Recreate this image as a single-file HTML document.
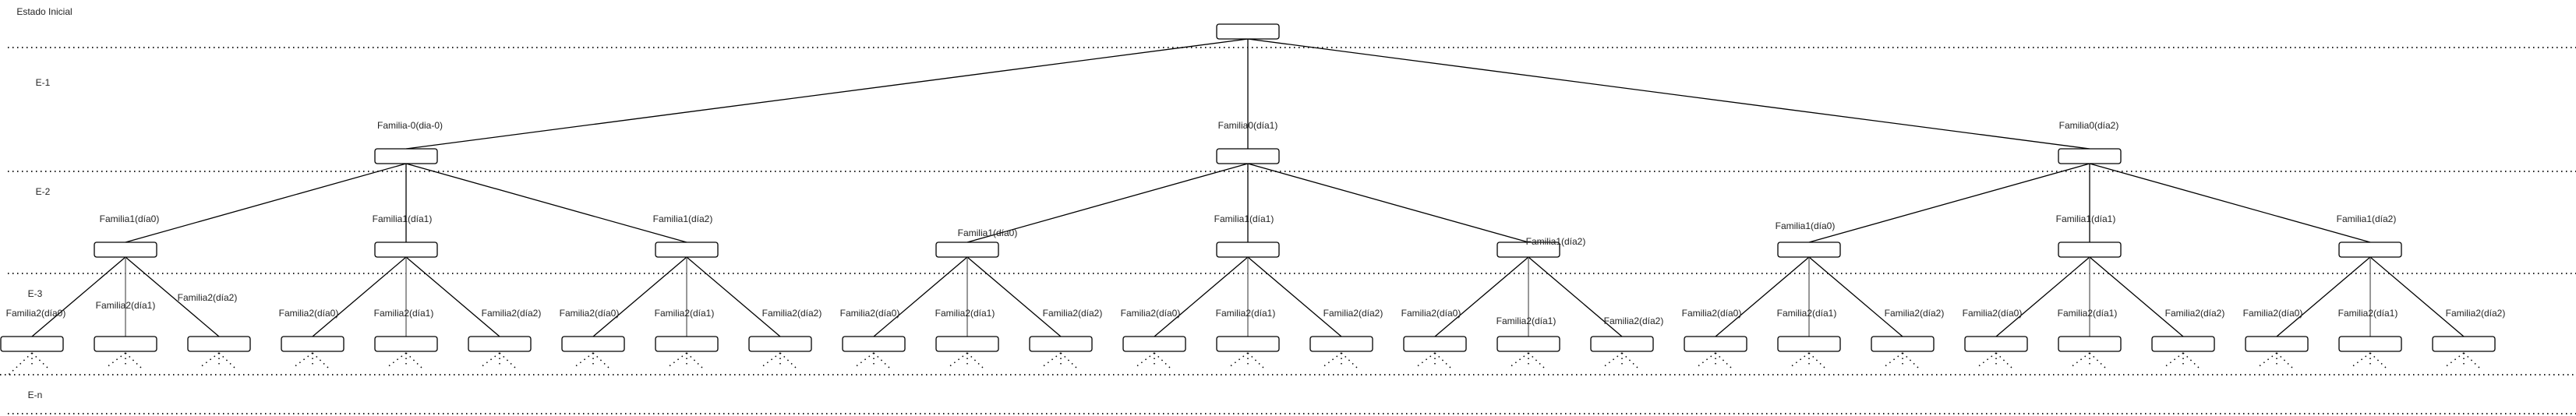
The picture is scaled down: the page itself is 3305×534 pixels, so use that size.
<!DOCTYPE html>
<html><head><meta charset="utf-8"><style>
html,body{margin:0;padding:0;background:#fff;width:3305px;height:534px;overflow:hidden}
svg text{font-family:"Liberation Sans",sans-serif;font-size:12px;fill:#222;text-anchor:middle;dominant-baseline:central}
</style></head><body>
<svg width="3305" height="534" xmlns="http://www.w3.org/2000/svg">
<g stroke="#222" stroke-width="2" stroke-dasharray="1.5 4.5" fill="none">
<line x1="10" y1="61" x2="3305" y2="61"/>
<line x1="10" y1="220" x2="3305" y2="220"/>
<line x1="10" y1="351" x2="3305" y2="351"/>
<line x1="0" y1="481" x2="3305" y2="481"/>
<line x1="10" y1="531" x2="3305" y2="531"/>
</g>
<text x="57" y="15">Estado Inicial</text>
<text x="55" y="106">E-1</text>
<text x="55" y="246">E-2</text>
<text x="45" y="377">E-3</text>
<text x="45" y="507">E-n</text>
<g stroke="#000" stroke-width="1.3" fill="none">
<path d="M1601 50L521 191M1601 50L1601 191M1601 50L2681 191"/>
<path d="M521 210L161 311M521 210L521 311M521 210L881 311M1601 210L1241 311M1601 210L1601 311M1601 210L1961 311M2681 210L2321 311M2681 210L2681 311M2681 210L3041 311"/>
<path d="M161 330L41 432M161 330L281 432M521 330L401 432M521 330L641 432M881 330L761 432M881 330L1001 432M1241 330L1121 432M1241 330L1361 432M1601 330L1481 432M1601 330L1721 432M1961 330L1841 432M1961 330L2081 432M2321 330L2201 432M2321 330L2441 432M2681 330L2561 432M2681 330L2801 432M3041 330L2921 432M3041 330L3161 432"/>
</g>
<g stroke="#777" stroke-width="1.5" fill="none">
<path d="M161 330V432M521 330V432M881 330V432M1241 330V432M1601 330V432M1961 330V432M2321 330V432M2681 330V432M3041 330V432"/>
</g>
<g stroke="#000" stroke-width="1.3" fill="#fff">
<rect x="1561" y="31" width="80" height="19" rx="3"/>
<rect x="481" y="191" width="80" height="19" rx="3"/><rect x="1561" y="191" width="80" height="19" rx="3"/><rect x="2641" y="191" width="80" height="19" rx="3"/>
<rect x="121" y="311" width="80" height="19" rx="3"/><rect x="481" y="311" width="80" height="19" rx="3"/><rect x="841" y="311" width="80" height="19" rx="3"/><rect x="1201" y="311" width="80" height="19" rx="3"/><rect x="1561" y="311" width="80" height="19" rx="3"/><rect x="1921" y="311" width="80" height="19" rx="3"/><rect x="2281" y="311" width="80" height="19" rx="3"/><rect x="2641" y="311" width="80" height="19" rx="3"/><rect x="3001" y="311" width="80" height="19" rx="3"/>
<rect x="1" y="432" width="80" height="19" rx="3"/><rect x="121" y="432" width="80" height="19" rx="3"/><rect x="241" y="432" width="80" height="19" rx="3"/><rect x="361" y="432" width="80" height="19" rx="3"/><rect x="481" y="432" width="80" height="19" rx="3"/><rect x="601" y="432" width="80" height="19" rx="3"/><rect x="721" y="432" width="80" height="19" rx="3"/><rect x="841" y="432" width="80" height="19" rx="3"/><rect x="961" y="432" width="80" height="19" rx="3"/><rect x="1081" y="432" width="80" height="19" rx="3"/><rect x="1201" y="432" width="80" height="19" rx="3"/><rect x="1321" y="432" width="80" height="19" rx="3"/><rect x="1441" y="432" width="80" height="19" rx="3"/><rect x="1561" y="432" width="80" height="19" rx="3"/><rect x="1681" y="432" width="80" height="19" rx="3"/><rect x="1801" y="432" width="80" height="19" rx="3"/><rect x="1921" y="432" width="80" height="19" rx="3"/><rect x="2041" y="432" width="80" height="19" rx="3"/><rect x="2161" y="432" width="80" height="19" rx="3"/><rect x="2281" y="432" width="80" height="19" rx="3"/><rect x="2401" y="432" width="80" height="19" rx="3"/><rect x="2521" y="432" width="80" height="19" rx="3"/><rect x="2641" y="432" width="80" height="19" rx="3"/><rect x="2761" y="432" width="80" height="19" rx="3"/><rect x="2881" y="432" width="80" height="19" rx="3"/><rect x="3001" y="432" width="80" height="19" rx="3"/><rect x="3121" y="432" width="80" height="19" rx="3"/>
</g>
<g stroke="#000" stroke-width="1.5" stroke-dasharray="1.5 5" fill="none">
<path d="M41 453l-30 28M41 453v19M41 453l20 19M161 453l-25 19M161 453v19M161 453l20 19M281 453l-25 19M281 453v19M281 453l20 19M401 453l-25 19M401 453v19M401 453l20 19M521 453l-25 19M521 453v19M521 453l20 19M641 453l-25 19M641 453v19M641 453l20 19M761 453l-25 19M761 453v19M761 453l20 19M881 453l-25 19M881 453v19M881 453l20 19M1001 453l-25 19M1001 453v19M1001 453l20 19M1121 453l-25 19M1121 453v19M1121 453l20 19M1241 453l-25 19M1241 453v19M1241 453l20 19M1361 453l-25 19M1361 453v19M1361 453l20 19M1481 453l-25 19M1481 453v19M1481 453l20 19M1601 453l-25 19M1601 453v19M1601 453l20 19M1721 453l-25 19M1721 453v19M1721 453l20 19M1841 453l-25 19M1841 453v19M1841 453l20 19M1961 453l-25 19M1961 453v19M1961 453l20 19M2081 453l-25 19M2081 453v19M2081 453l20 19M2201 453l-25 19M2201 453v19M2201 453l20 19M2321 453l-25 19M2321 453v19M2321 453l20 19M2441 453l-25 19M2441 453v19M2441 453l20 19M2561 453l-25 19M2561 453v19M2561 453l20 19M2681 453l-25 19M2681 453v19M2681 453l20 19M2801 453l-25 19M2801 453v19M2801 453l20 19M2921 453l-25 19M2921 453v19M2921 453l20 19M3041 453l-25 19M3041 453v19M3041 453l20 19M3161 453l-25 19M3161 453v19M3161 453l20 19"/>
</g>
<text x="526" y="161">Familia-0(dia-0)</text>
<text x="1601" y="161">Familia0(día1)</text>
<text x="2680" y="161">Familia0(día2)</text>
<text x="166" y="281">Familia1(día0)</text>
<text x="516" y="281">Familia1(día1)</text>
<text x="876" y="281">Familia1(día2)</text>
<text x="1267" y="299">Familia1(día0)</text>
<text x="1596" y="281">Familia1(día1)</text>
<text x="1996" y="310">Familia1(día2)</text>
<text x="2316" y="290">Familia1(día0)</text>
<text x="2676" y="281">Familia1(día1)</text>
<text x="3036" y="281">Familia1(día2)</text>
<text x="46" y="402">Familia2(día0)</text><text x="161" y="392">Familia2(día1)</text><text x="266" y="382">Familia2(día2)</text>
<text x="396" y="402">Familia2(día0)</text><text x="518" y="402">Familia2(día1)</text><text x="656" y="402">Familia2(día2)</text>
<text x="756" y="402">Familia2(día0)</text><text x="878" y="402">Familia2(día1)</text><text x="1016" y="402">Familia2(día2)</text>
<text x="1116" y="402">Familia2(día0)</text><text x="1238" y="402">Familia2(día1)</text><text x="1376" y="402">Familia2(día2)</text>
<text x="1476" y="402">Familia2(día0)</text><text x="1598" y="402">Familia2(día1)</text><text x="1736" y="402">Familia2(día2)</text>
<text x="1836" y="402">Familia2(día0)</text><text x="1958" y="412">Familia2(día1)</text><text x="2096" y="412">Familia2(día2)</text>
<text x="2196" y="402">Familia2(día0)</text><text x="2318" y="402">Familia2(día1)</text><text x="2456" y="402">Familia2(día2)</text>
<text x="2556" y="402">Familia2(día0)</text><text x="2678" y="402">Familia2(día1)</text><text x="2816" y="402">Familia2(día2)</text>
<text x="2916" y="402">Familia2(día0)</text><text x="3038" y="402">Familia2(día1)</text><text x="3176" y="402">Familia2(día2)</text>
</svg>
</body></html>
